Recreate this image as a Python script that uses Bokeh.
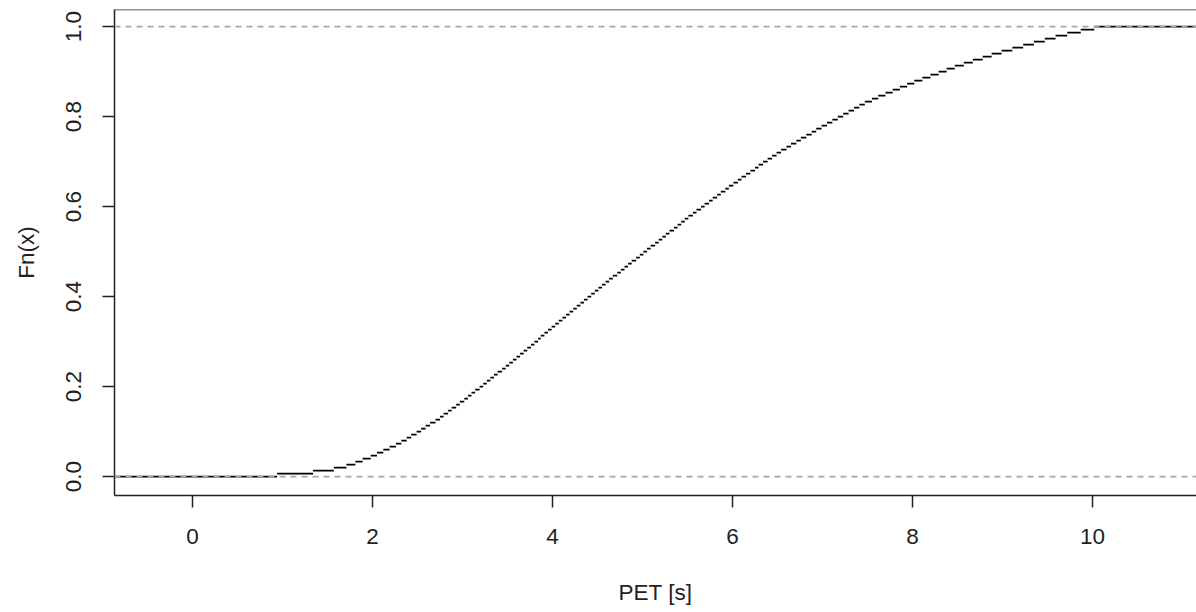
import numpy as np
from bokeh.plotting import figure
from bokeh.models import Range1d, FixedTicker, Span, PrintfTickFormatter
from bokeh.embed import file_html
from bokeh.resources import INLINE

pet_values = [
    0.94, 1.34, 1.57, 1.71, 1.81, 1.89, 1.98, 2.05, 2.12, 2.19,
    2.26, 2.32, 2.38, 2.43, 2.49, 2.54, 2.59, 2.64, 2.70, 2.75,
    2.79, 2.84, 2.88, 2.93, 2.97, 3.02, 3.06, 3.10, 3.14, 3.19,
    3.23, 3.27, 3.31, 3.35, 3.39, 3.44, 3.48, 3.52, 3.56, 3.60,
    3.64, 3.68, 3.72, 3.76, 3.80, 3.84, 3.87, 3.91, 3.95, 3.99,
    4.03, 4.07, 4.11, 4.15, 4.19, 4.23, 4.27, 4.31, 4.35, 4.39,
    4.43, 4.47, 4.51, 4.55, 4.59, 4.63, 4.67, 4.72, 4.76, 4.80,
    4.84, 4.88, 4.93, 4.97, 5.01, 5.05, 5.09, 5.14, 5.18, 5.22,
    5.26, 5.30, 5.35, 5.39, 5.43, 5.47, 5.51, 5.56, 5.60, 5.65,
    5.69, 5.74, 5.78, 5.83, 5.87, 5.92, 5.96, 6.01, 6.06, 6.10,
    6.15, 6.20, 6.25, 6.29, 6.34, 6.39, 6.44, 6.49, 6.54, 6.60,
    6.65, 6.71, 6.76, 6.82, 6.88, 6.93, 6.99, 7.05, 7.11, 7.17,
    7.23, 7.29, 7.35, 7.41, 7.47, 7.55, 7.62, 7.70, 7.78, 7.86,
    7.94, 8.02, 8.11, 8.20, 8.29, 8.38, 8.47, 8.57, 8.67, 8.78,
    8.88, 8.99, 9.11, 9.23, 9.35, 9.47, 9.59, 9.72, 9.87, 10.02,
]
x_ticks = [0, 2, 4, 6, 8, 10]
y_ticks = [0.0, 0.2, 0.4, 0.6, 0.8, 1.0]
ref_levels = [0.0, 1.0]
x_label = "PET [s]"
y_label = "Fn(x)"

x_lo, x_hi = -0.867, 11.156
y_lo, y_hi = -0.042, 1.038

knots = np.sort(np.array(pet_values, dtype=float))
n = len(knots)
fk = np.arange(1, n + 1) / n
seg_x0 = np.concatenate([[x_lo], knots])
seg_x1 = np.concatenate([knots, [x_hi]])
seg_y = np.concatenate([[0.0], fk])

FONT = "Liberation Sans"
DARK = "#222222"
FS = "22.5px"

p = figure(width=1196, height=612, output_backend="svg", toolbar_location=None,
           x_range=Range1d(x_lo, x_hi), y_range=Range1d(y_lo, y_hi),
           min_border_left=114, min_border_right=0, min_border_top=9,
           min_border_bottom=117)
p.background_fill_color = "white"
p.border_fill_color = "white"
p.outline_line_color = None
p.grid.visible = False

p.segment(x0=seg_x0, y0=seg_y, x1=seg_x1, y1=seg_y, line_color="black", line_width=1.8)

for lv in ref_levels:
    p.add_layout(Span(location=lv, dimension="width", line_color="#a6a6a6",
                      line_dash="6 5", line_width=1.6))
p.add_layout(Span(location=y_hi, dimension="width", line_color=DARK, line_width=1.5))

for ax in (p.xaxis[0], p.yaxis[0]):
    ax.axis_line_color = DARK
    ax.axis_line_width = 1.5
    ax.major_tick_line_color = DARK
    ax.major_tick_line_width = 1.5
    ax.major_tick_out = 12
    ax.major_tick_in = 0
    ax.minor_tick_line_color = None
    ax.major_label_text_font = FONT
    ax.major_label_text_font_size = FS
    ax.major_label_text_color = DARK
    ax.axis_label_text_font = FONT
    ax.axis_label_text_font_size = FS
    ax.axis_label_text_font_style = "normal"
    ax.axis_label_text_color = DARK

p.xaxis[0].ticker = FixedTicker(ticks=x_ticks)
p.xaxis[0].major_label_standoff = 21
p.xaxis[0].axis_label = x_label
p.xaxis[0].axis_label_standoff = 33

p.yaxis[0].ticker = FixedTicker(ticks=y_ticks)
p.yaxis[0].formatter = PrintfTickFormatter(format="%.1f")
p.yaxis[0].major_label_orientation = "parallel"
p.yaxis[0].major_label_standoff = 21
p.yaxis[0].axis_label = y_label
p.yaxis[0].axis_label_standoff = 25

open("out.html", "w").write(file_html(p, INLINE))
